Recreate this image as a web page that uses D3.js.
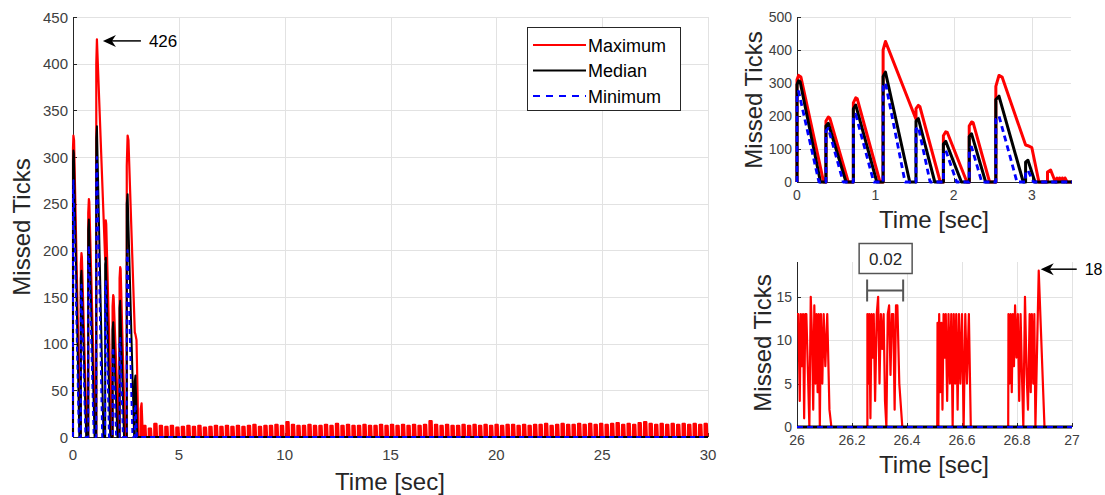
<!DOCTYPE html>
<html><head><meta charset="utf-8">
<script src="https://cdn.jsdelivr.net/npm/d3@7"></script>
<style>
body{margin:0;background:#fff}
svg{display:block}
text{font-family:"Liberation Sans",Arial,Helvetica,sans-serif}
</style>
</head><body>
<svg id="chart" width="1105" height="495"></svg>
<script>
// ---------------- DATA ----------------
const seriesNames = ["Maximum", "Median", "Minimum"];

// first seconds (sawtooth start-up), [time s, missed ticks]
const maxStart = [[0,0],[0,310],[0.02,323],[0.05,318],[0.34,0],
  [0.37,0],[0.37,185],[0.40,197],[0.42,193],[0.655,0],
  [0.72,0],[0.72,240],[0.75,255],[0.77,252],[1.06,0],
  [1.10,0],[1.10,400],[1.13,426],[1.52,190],[1.52,222],[1.55,232],[1.57,228],[1.83,0],
  [1.87,0],[1.87,140],[1.90,152],[1.92,150],[2.17,0],
  [2.20,0],[2.20,170],[2.23,182],[2.25,180],[2.46,0],
  [2.54,0],[2.54,290],[2.58,323],[2.62,318],[2.92,112],[2.95,110],[3.0,104],[3.09,0],
  [3.20,0],[3.20,30],[3.24,36],[3.28,12],[3.30,0]];
const medianStart = [[0,0],[0,295],[0.02,307],[0.04,304],[0.30,0],
  [0.37,0],[0.37,170],[0.40,178],[0.626,0],
  [0.72,0],[0.72,222],[0.75,233],[1.02,0],
  [1.10,0],[1.10,320],[1.13,333],[1.44,0],
  [1.52,0],[1.52,185],[1.55,192],[1.76,0],
  [1.87,0],[1.87,115],[1.90,123],[2.10,0],
  [2.20,0],[2.20,138],[2.23,146],[2.41,0],
  [2.54,0],[2.54,250],[2.58,260],[2.89,0],
  [2.92,0],[2.92,60],[2.95,66],[3.04,0],
  [30,0]];
const minStart = [[0,0],[0,262],[0.02,275],[0.28,0],
  [0.37,0],[0.37,155],[0.40,163],[0.59,0],
  [0.72,0],[0.72,195],[0.75,205],[0.98,0],
  [1.10,0],[1.10,290],[1.13,300],[1.38,0],
  [1.52,0],[1.52,160],[1.55,167],[1.70,0],
  [1.87,0],[1.87,90],[1.90,96],[2.04,0],
  [2.20,0],[2.20,100],[2.23,106],[2.36,0],
  [2.54,0],[2.54,190],[2.58,200],[2.81,0],
  [2.92,0],[2.92,30],[2.95,35],[3.02,0],
  [30,0]];

// steady state: peak of the maximum in each burst (bursts every 0.26 s from 3.32 s)
const noiseStart = 3.32;
const noisePeriod = 0.26;
const noisePeaks = [12,9,14,12,11,12,10,11,12,11,
  12,10,11,12,11,12,11,12,11,12,
  13,11,12,12,13,12,16,13,12,12,
  13,12,12,13,12,14,12,13,12,12,
  13,12,12,13,12,13,12,13,12,13,
  12,13,17,13,12,13,12,12,13,12,
  13,12,13,12,13,12,13,13,12,13,
  12,13,13,14,12,13,14,13,13,14,
  13,14,13,14,13,14,15,13,14,13,
  15,16,14,13,14,13,14,13,14,13,
  14,13,14];

// detail window 26-27 s
const zoomMax = [
  [26.000,13],[26.005,13],[26.010,3],[26.014,13],[26.018,7],[26.022,13],[26.026,1],[26.030,13],[26.034,13],[26.040,6],[26.045,0],[26.050,15],[26.055,10],[26.059,2],[26.063,14],[26.067,5],[26.071,13],[26.075,4],[26.079,13],[26.083,0],[26.087,13],[26.092,5],[26.097,13],[26.103,7],[26.110,13],[26.118,2],[26.125,0],
  [26.256,0],[26.256,13],[26.260,5],[26.263,13],[26.267,1],[26.271,13],[26.275,8],[26.279,13],[26.284,3],[26.290,13],[26.295,15],[26.300,5],[26.305,13],[26.310,9],[26.315,13],[26.320,3],[26.325,0],[26.330,13],[26.335,14],[26.340,6],[26.345,13],[26.350,13],[26.355,2],[26.360,14],[26.365,14],[26.372,5],[26.383,0],
  [26.510,0],[26.511,12],[26.514,0],[26.517,13],[26.521,4],[26.525,12],[26.529,2],[26.533,13],[26.537,8],[26.541,13],[26.546,3],[26.551,13],[26.556,5],[26.561,13],[26.566,0],[26.570,13],[26.575,5],[26.579,13],[26.584,2],[26.589,13],[26.594,5],[26.600,13],[26.606,0],[26.612,13],[26.618,5],[26.625,13],[26.632,0],
  [26.768,0],[26.769,13],[26.773,5],[26.777,13],[26.781,4],[26.785,13],[26.789,7],[26.793,14],[26.798,8],[26.803,13],[26.808,3],[26.813,13],[26.818,6],[26.823,0],[26.829,15],[26.835,6],[26.840,2],[26.846,13],[26.850,4],[26.854,13],[26.859,5],[26.863,13],[26.867,0],[26.879,18],[26.900,0],[27,0]];
const zoomMedian = [[26,0],[27,0]];
const zoomMin = [[26,0],[27,0]];

const mainXTicks = [0,5,10,15,20,25,30];
const mainYTicks = [0,50,100,150,200,250,300,350,400,450];
const topXTicks = [0,1,2,3];
const topYTicks = [0,100,200,300,400,500];
const botXTicks = [26,26.2,26.4,26.6,26.8,27];
const botXTickLabels = ["26","26.2","26.4","26.6","26.8","27"];
const botYTicks = [0,5,10,15];
const peakMainLabel = "426";
const peakZoomLabel = "18";
const intervalLabel = "0.02";
const xTitle = "Time [sec]";
const yTitle = "Missed Ticks";

// ---------------- BUILD ----------------
// each steady-state burst oscillates between 0 and its peak
const noisePts = [];
noisePeaks.forEach((p, i) => {
  const t0 = noiseStart + i * noisePeriod;
  noisePts.push([t0,0],[t0,p],[t0+0.025,1],[t0+0.035,p],[t0+0.06,2],[t0+0.07,p],[t0+0.095,1],[t0+0.105,p],[t0+0.13,0]);
});
const maxFull = maxStart.concat(noisePts, [[30,0]]);

const RED = "#ff0000", BLACK = "#000000", BLUE = "#0000ff";
const svg = d3.select("#chart");
const defs = svg.append("defs");

function panel(cfg) {
  const x = d3.scaleLinear().domain(cfg.xDomain).range(cfg.xRange);
  const y = d3.scaleLinear().domain(cfg.yDomain).range(cfg.yRange);
  const [x0, x1] = cfg.xRange, [y0, y1] = cfg.yRange;
  const g = svg.append("g");
  // grid
  g.selectAll(null).data(cfg.yTicks.filter(d => d !== cfg.yDomain[0])).join("line")
    .attr("x1", x0).attr("x2", x1).attr("y1", d => Math.round(y(d)) + 0.5).attr("y2", d => Math.round(y(d)) + 0.5)
    .attr("stroke", "#e2e2e2").attr("stroke-width", 1);
  g.selectAll(null).data(cfg.xTicks.filter(d => d !== cfg.xDomain[0])).join("line")
    .attr("y1", y0).attr("y2", y1).attr("x1", d => Math.round(x(d)) + 0.5).attr("x2", d => Math.round(x(d)) + 0.5)
    .attr("stroke", "#e2e2e2").attr("stroke-width", 1);
  // axis lines
  g.append("line").attr("x1", x0 + 0.5).attr("x2", x0 + 0.5).attr("y1", y0).attr("y2", y1)
    .attr("stroke", "#262626").attr("stroke-width", 1);
  g.append("line").attr("x1", x0).attr("x2", x1).attr("y1", y0 + 0.5).attr("y2", y0 + 0.5)
    .attr("stroke", "#262626").attr("stroke-width", 1);
  // inward tick marks
  g.selectAll(null).data(cfg.yTicks).join("line")
    .attr("x1", x0).attr("x2", x0 + 4).attr("y1", d => Math.round(y(d)) + 0.5).attr("y2", d => Math.round(y(d)) + 0.5)
    .attr("stroke", "#262626");
  g.selectAll(null).data(cfg.xTicks).join("line")
    .attr("y1", y0).attr("y2", y0 - 4).attr("x1", d => Math.round(x(d)) + 0.5).attr("x2", d => Math.round(x(d)) + 0.5)
    .attr("stroke", "#262626");
  // data
  const id = "clip" + cfg.name;
  defs.append("clipPath").attr("id", id).append("rect")
    .attr("x", x0 - 2).attr("y", y1 - 3).attr("width", x1 - x0 + 3).attr("height", y0 - y1 + 6);
  const line = d3.line().x(d => x(d[0])).y(d => y(d[1]));
  const lg = g.append("g").attr("clip-path", `url(#${id})`);
  cfg.series.forEach(s => {
    lg.append("path").attr("d", line(s.data)).attr("fill", "none")
      .attr("stroke", s.color).attr("stroke-width", s.width)
      .attr("stroke-dasharray", s.dash || null)
      .attr("stroke-linejoin", "round");
  });
  // tick labels
  g.selectAll(null).data(cfg.yTicks).join("text")
    .attr("x", x0 - 5).attr("y", d => y(d) + cfg.yLabDy)
    .attr("text-anchor", "end").attr("font-size", cfg.tickSize).attr("fill", "#404040")
    .text(d => d);
  g.selectAll(null).data(cfg.xTicks).join("text")
    .attr("x", d => x(d)).attr("y", y0 + cfg.xLabDy)
    .attr("text-anchor", "middle").attr("font-size", cfg.tickSize).attr("fill", "#404040")
    .text((d, i) => cfg.xTickLabels ? cfg.xTickLabels[i] : d);
  // titles
  g.append("text").attr("x", cfg.xTitlePos[0]).attr("y", cfg.xTitlePos[1])
    .attr("text-anchor", "middle").attr("font-size", 24).attr("fill", "#262626").text(xTitle);
  g.append("text").attr("transform", `translate(${cfg.yTitlePos[0]},${cfg.yTitlePos[1]}) rotate(-90)`)
    .attr("text-anchor", "middle").attr("font-size", 24).attr("fill", "#262626").text(yTitle);
  return {x, y, g};
}

function arrow(g, tx, ty, len, label, fs) {
  g.append("line").attr("x1", tx + 9).attr("x2", tx + len).attr("y1", ty).attr("y2", ty)
    .attr("stroke", "#000").attr("stroke-width", 1.5);
  g.append("path").attr("d", `M${tx},${ty} L${tx+13},${ty-6} L${tx+9},${ty} L${tx+13},${ty+6} Z`)
    .attr("fill", "#000");
  g.append("text").attr("x", tx + len + 8).attr("y", ty + fs * 0.36)
    .attr("font-size", fs).attr("fill", "#000").text(label);
}

// main chart
const main = panel({
  name: "main", xDomain: [0, 30], yDomain: [0, 450], xRange: [73, 708], yRange: [437, 17],
  xTicks: mainXTicks, yTicks: mainYTicks, tickSize: 15, yLabDy: 5.5, xLabDy: 23,
  xTitlePos: [390, 490], yTitlePos: [30, 227],
  series: [
    {data: maxFull, color: RED, width: 2.2},
    {data: medianStart, color: BLACK, width: 2},
    {data: minStart, color: BLUE, width: 2, dash: "5,4"}
  ]
});
// peak annotation
{
  const peak = maxStart.reduce((a, b) => b[1] > a[1] ? b : a);
  arrow(main.g, main.x(peak[0]) + 6, main.y(peak[1]) + 1.5, 38, peakMainLabel, 17);
}
// legend
{
  const lg = svg.append("g");
  lg.append("rect").attr("x", 527.5).attr("y", 27.5).attr("width", 153).attr("height", 83)
    .attr("fill", "#fff").attr("stroke", "#262626").attr("stroke-width", 1);
  const st = [{c: RED, d: null}, {c: BLACK, d: null}, {c: BLUE, d: "7,6"}];
  seriesNames.forEach((n, i) => {
    const yy = 45 + i * 25.5;
    lg.append("line").attr("x1", 533).attr("x2", 586).attr("y1", yy).attr("y2", yy)
      .attr("stroke", st[i].c).attr("stroke-width", 2).attr("stroke-dasharray", st[i].d);
    lg.append("text").attr("x", 588).attr("y", yy + 6.5).attr("font-size", 18).attr("fill", "#000").text(n);
  });
}

// top-right chart
panel({
  name: "top", xDomain: [0, 3.5], yDomain: [0, 500], xRange: [797, 1071], yRange: [182, 17],
  xTicks: topXTicks, yTicks: topYTicks, tickSize: 14, yLabDy: 5, xLabDy: 18,
  xTitlePos: [934, 228], yTitlePos: [762, 100],
  series: [
    {data: maxFull, color: RED, width: 3},
    {data: medianStart, color: BLACK, width: 3},
    {data: minStart, color: BLUE, width: 2.8, dash: "6,4"}
  ]
});

// bottom-right chart
const bot = panel({
  name: "bot", xDomain: [26, 27], yDomain: [0, 19], xRange: [797, 1072], yRange: [427, 262],
  xTicks: botXTicks, xTickLabels: botXTickLabels, yTicks: botYTicks, tickSize: 14, yLabDy: 5, xLabDy: 18,
  xTitlePos: [934, 473], yTitlePos: [771, 343],
  series: [
    {data: zoomMax, color: RED, width: 2.2},
    {data: zoomMedian, color: BLACK, width: 3},
    {data: zoomMin, color: BLUE, width: 2, dash: "6,4"}
  ]
});
{
  const peak = zoomMax.reduce((a, b) => b[1] > a[1] ? b : a);
  arrow(bot.g, bot.x(peak[0]) + 2, bot.y(peak[1]) - 1.5, 36, peakZoomLabel, 16);
  // interval bracket
  const bx0 = bot.x(26.255), bx1 = bot.x(26.386), by = 290.5;
  const bg = bot.g.append("g").attr("stroke", "#555").attr("stroke-width", 2);
  bg.append("line").attr("x1", bx0).attr("x2", bx1).attr("y1", by).attr("y2", by);
  bg.append("line").attr("x1", bx0).attr("x2", bx0).attr("y1", by - 11).attr("y2", by + 11);
  bg.append("line").attr("x1", bx1).attr("x2", bx1).attr("y1", by - 11).attr("y2", by + 11);
  const cx = (bx0 + bx1) / 2;
  bot.g.append("rect").attr("x", cx - 26).attr("y", 243.5).attr("width", 53).attr("height", 30)
    .attr("fill", "#fff").attr("stroke", "#555").attr("stroke-width", 1.5);
  bot.g.append("text").attr("x", cx + 0.5).attr("y", 264.5).attr("text-anchor", "middle")
    .attr("font-size", 17).attr("fill", "#262626").text(intervalLabel);
}
</script>
</body></html>
